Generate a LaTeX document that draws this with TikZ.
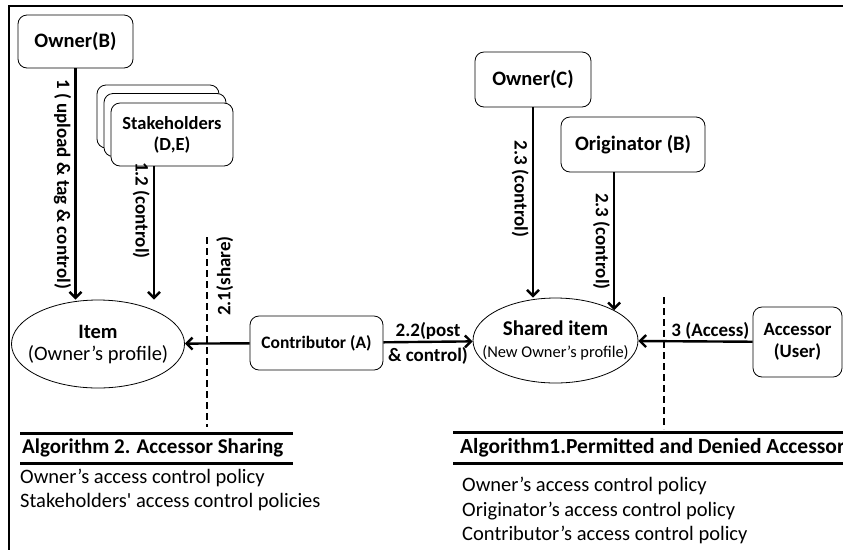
\documentclass[tikz,border=0pt]{standalone}
\usepackage{fontspec}
\setmainfont{Carlito}
\usetikzlibrary{positioning,shapes.geometric,arrows.meta}

\begin{document}
\begin{tikzpicture}[
        x=1pt, y=-1pt,
        box/.style={draw, rounded corners=9pt, line width=0.8pt, fill=white, align=center, inner sep=2pt, font=\bfseries\fontsize{20.5}{23}\selectfont},
        blob/.style={ellipse, draw, line width=0.8pt, inner ysep=0pt, align=center, minimum width=173pt, minimum height=88pt, font=\fontsize{20.5}{22}\selectfont},
        edge/.style={draw, line width=2.4pt, -{Straight Barb[length=6pt,width=12pt]}},
        cut/.style={draw, line width=2.2pt, dash pattern=on 7pt off 4pt},
        rule/.style={draw, line width=3pt},
        lbl/.style={font=\bfseries\fontsize{19}{21}\selectfont, inner sep=3pt},
        txt/.style={anchor=base west, inner sep=0pt, font=\fontsize{20.5}{22}\selectfont}
    ]
        \path[use as bounding box, clip] (0,0) rectangle (843,550);
        \draw[line width=2.5pt] (843,6) -- (9,6) -- (9,550);

        % Nodes
        \node[box, minimum width=115pt, minimum height=53pt] (ownerB) at (75.5,41.5) {Owner(B)};
        \node[box, minimum width=122pt, minimum height=63pt] (stakeC) at (158,116.5) {};
        \node[box, minimum width=122pt, minimum height=63pt] (stakeB) at (165,125) {};
        \node[box, minimum width=122pt, minimum height=63pt, font=\bfseries\fontsize{18.5}{21}\selectfont] (stake) at (172,134.5) {Stakeholders\\(D,E)};
        \node[blob, inner xsep=-12pt] (item) at (98,344) {\textbf{Item}\\(Owner’s profile)};
        \node[box, minimum width=133pt, minimum height=54pt, font=\bfseries\fontsize{17.5}{20}\selectfont] (contrib) at (316.5,343) {Contributor (A)};
        \node[blob, inner xsep=-17pt, minimum width=165pt, minimum height=85pt] (shared) at (555.5,340.5) {\textbf{\fontsize{21}{22}\selectfont Shared item}\\{\fontsize{16.4}{18}\selectfont (New Owner’s profile)}};
        \node[box, minimum width=116pt, minimum height=55pt] (ownerC) at (533,79.5) {Owner(C)};
        \node[box, minimum width=144pt, minimum height=55pt] (orig) at (633,144.5) {Originator (B)};
        \node[box, minimum width=89pt, minimum height=70pt, font=\bfseries\fontsize{18.7}{22}\selectfont] (acc) at (797.5,342) {Accessor\\(User)};

        % Edges
        \draw[edge] (ownerB) -- (ownerB |- item.north) node[lbl, midway, rotate=-90, anchor=north] (l1) {1 ( upload \& tag \& control)};
        \draw[edge] ([xshift=-18pt]stake.south) -- ([xshift=-18pt]stake.south |- item.north) node[lbl, pos=.33, rotate=-90, anchor=north] (l12) {1.2 (control)};
        \draw[edge] (contrib) -- (item);
        \draw[edge] (contrib) -- (shared) node[lbl, midway, above, inner sep=1pt] (l22a) {2.2(post} node[lbl, midway, below, inner sep=4pt] (l22b) {\& control)};
        \draw[edge] (ownerC) -- (ownerC |- shared.north) node[lbl, pos=.43, rotate=-90, anchor=north] (l23a) {2.3 (control)};
        \draw[edge] (orig.south -| shared.north east) -- (shared.north east) node[lbl, midway, rotate=-90, anchor=north] (l23b) {2.3 (control)};
        \draw[edge] (acc) -- (shared) node[lbl, pos=.37, above, inner sep=1pt] (l3) {3 (Access)};

        % Separators
        \draw[cut] (207,237) -- (207,427);
        \node[lbl, rotate=90, anchor=north] (l21) at (213,276) {2.1(share)};
        \draw[cut] (664,297) -- (664,429);

        % Algorithms
        \draw[rule] (20,433) -- (293,433);
        \draw[rule] (20,463) -- (293,463);
        \node[txt, font=\bfseries\fontsize{21}{23}\selectfont] (alg2) at (22,453) {Algorithm 2. Accessor Sharing};
        \node[txt] (alg2a) at (20,483) {Owner’s access control policy};
        \node[txt] (alg2b) at (20,507) {Stakeholders\textquotesingle{} access control policies};

        \draw[rule] (453,432) -- (843,432);
        \draw[rule] (453,463) -- (843,463);
        \node[txt, font=\bfseries\fontsize{21.5}{23}\selectfont] (alg1) at (460,453) {Algorithm1.Permitted and Denied Accessors};
        \node[txt] (alg1a) at (462,491) {Owner’s access control policy};
        \node[txt] (alg1b) at (462,516) {Originator’s access control policy};
        \node[txt] (alg1c) at (462,540) {Contributor’s access control policy};
    \end{tikzpicture}
\end{document}
